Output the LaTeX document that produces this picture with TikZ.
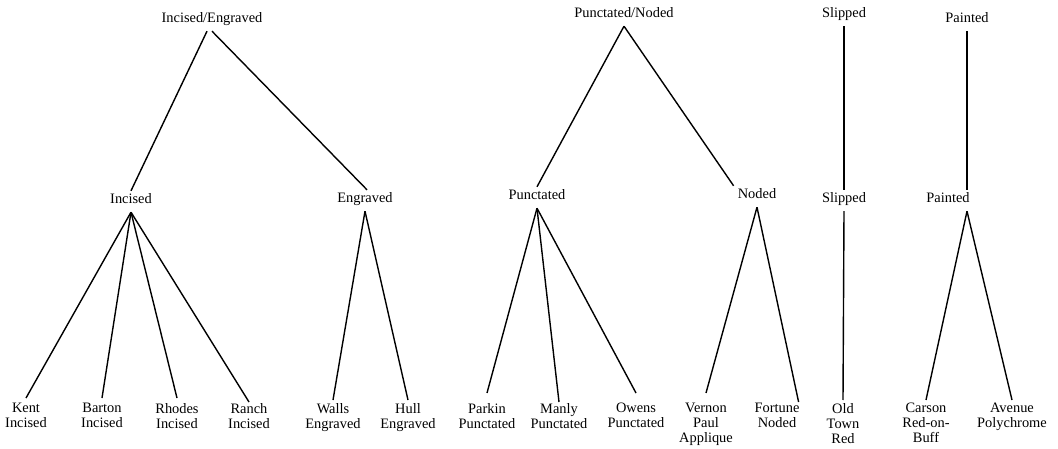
\documentclass[tikz,border=0pt]{standalone}
\usepackage{fontspec}
\setmainfont{Liberation Serif}
\usepackage{tikz}

\begin{document}
\begin{tikzpicture}[x=1pt,y=-1pt,
    grp/.style={anchor=base,inner sep=2pt,text height=11pt,text depth=6pt,
      font=\fontsize{14.4}{15}\selectfont},
    ware/.style={anchor=north,inner sep=1pt,align=center,
      font=\fontsize{14.4}{15}\selectfont},
    branch/.style={line width=1.4pt}]
  \useasboundingbox (0,0) rectangle (1058,449);

  % top level
  \node[grp] (ie) at (212,23) {Incised/Engraved};
  \node[grp] (pn) at (624,18) {Punctated/Noded};
  \node[grp] (sl0) at (844,18) {Slipped};
  \node[grp] (pa0) at (967,23) {Painted};

  % middle level
  \node[grp] (inc) at (131,204) {Incised};
  \node[grp] (eng) at (365,203) {Engraved};
  \node[grp] (pun) at (537,200) {Punctated};
  \node[grp] (nod) at (757,199) {Noded};
  \node[grp] (sl) at (844,203) {Slipped};
  \node[grp] (pa) at (948,203) {Painted};
  \coordinate (paN) at ([xshift=19pt]pa.north);
  \coordinate (paS) at ([xshift=19pt]pa.south);

  % wares
  \foreach \nm/\x/\txt in {kent/26/{Kent\\Incised},bart/102/{Barton\\Incised},
      rhod/177/{Rhodes\\Incised},ranc/249/{Ranch\\Incised},
      wall/333/{Walls\\Engraved},hull/408/{Hull\\Engraved},
      park/487/{Parkin\\Punctated},manl/559/{Manly\\Punctated},
      owen/636/{Owens\\Punctated},vern/706/{Vernon\\Paul\\Applique},
      fort/777/{Fortune\\Noded},oldt/843/{Old\\Town\\Red},
      cars/926/{Carson\\Red-on-\\Buff},aven/1012/{Avenue\\Polychrome}}
    \node[ware] (\nm) at (\x,402) {\txt};

  \draw[branch] ([xshift=-5pt]ie.south) -- (inc.north);
  \draw[branch] (ie.south) -- ([xshift=2pt]eng.north);
  \draw[branch] (pn.south) -- (pun.north);
  \draw[branch] (pn.south) -- ([xshift=-2pt]nod.north west);
  \draw[branch] (sl0.south) -- (sl.north);
  \draw[branch] (pa0.south) -- (paN);

  % line ends sit a little above some of the wares
  \foreach \a/\b/\dy in {inc/kent/4,inc/bart/4,inc/rhod/4,inc/ranc/0,
      eng/wall/2,eng/hull/2,pun/park/9,pun/manl/0,pun/owen/9,
      nod/vern/9,sl/oldt/2}
    \draw[branch] (\a.south) -- ([yshift=\dy pt]\b.north);
  \draw[branch] (nod.south) -- ([xshift=-2pt]fort.north east);
  \draw[branch] (paS) -- ([yshift=2pt]cars.north);
  \draw[branch] (paS) -- ([yshift=2pt]aven.north);

\end{tikzpicture}
\end{document}
